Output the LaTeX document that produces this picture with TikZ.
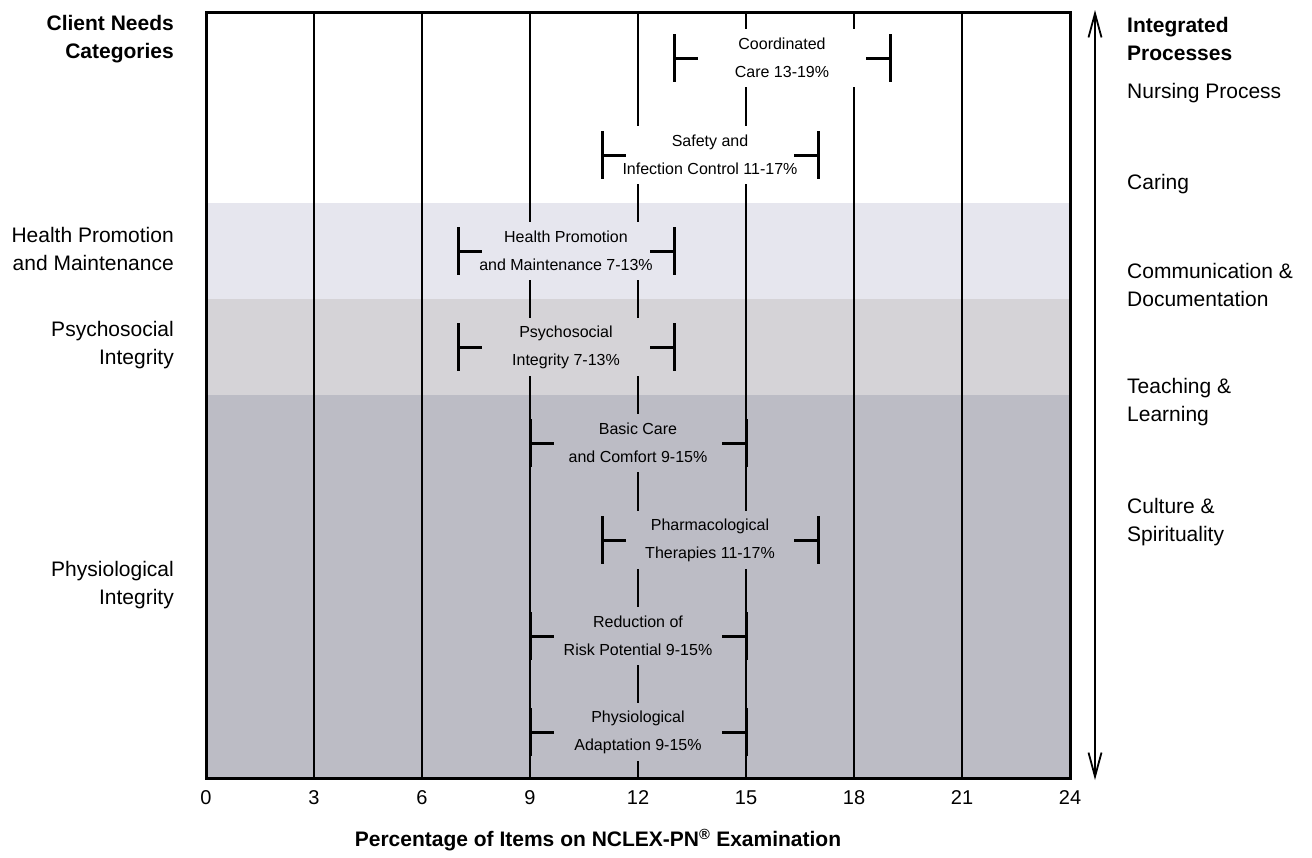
\documentclass[tikz,border=0pt]{standalone}
\usepackage{fontspec}
\setmainfont{Liberation Sans}
\usetikzlibrary{positioning, arrows.meta}

\definecolor{bandA}{HTML}{E6E6EE}
\definecolor{bandB}{HTML}{D5D3D7}
\definecolor{bandC}{HTML}{BCBCC5}

\tikzset{
  sidelabel/.style={font=\fontsize{21}{28}\selectfont, inner sep=0pt},
  barlabel/.style={font=\fontsize{16}{28}\selectfont, align=center, inner sep=0pt, minimum height=58pt},
  gridline/.style={line width=1.6pt},
  tickmark/.style={line width=3pt},
  axisnum/.style={font=\fontsize{20}{24}\selectfont, inner sep=0pt}
}

\begin{document}
\begin{tikzpicture}[x=1pt, y=-1pt]
\useasboundingbox (0,0) rectangle (1312,857);
% background bands
\fill[bandA] (206,203) rectangle (1070,299);
\fill[bandB] (206,299) rectangle (1070,395);
\fill[bandC] (206,395) rectangle (1070,778);
% vertical grid
\foreach \i in {3,6,...,21}
  \draw[gridline] ({206+36*\i},12) -- ({206+36*\i},778);
% ranges
\foreach \lo/\hi/\yy/\col/\txt in {
  13/19/58/white/{Coordinated\\Care 13-19\%},
  11/17/155/white/{Safety and\\Infection Control 11-17\%},
  7/13/251/bandA/{Health Promotion\\and Maintenance 7-13\%},
  7/13/347/bandB/{Psychosocial\\Integrity 7-13\%},
  9/15/443/bandC/{Basic Care\\and Comfort 9-15\%},
  11/17/540/bandC/{Pharmacological\\Therapies 11-17\%},
  9/15/636/bandC/{Reduction of\\Risk Potential 9-15\%},
  9/15/732/bandC/{Physiological\\Adaptation 9-15\%}}
{
  \node (bar\yy) [barlabel, fill=\col, minimum width={(36*(\hi-\lo)-50)*1pt}]
    at ({206+18*(\lo+\hi)},\yy) {\txt};
  \draw[tickmark] ({206+36*\lo},{\yy-24}) -- ++(0,48) ({206+36*\lo},\yy) -- ++(24,0);
  \draw[tickmark] ({206+36*\hi},{\yy-24}) -- ++(0,48) ({206+36*\hi},\yy) -- ++(-24,0);
}
% frame
\draw[line width=3pt] (206,12) rectangle (1070,778);
% axis numbers
\foreach \i in {0,3,...,24}
  \node (num\i) [axisnum] at ({206+36*\i},798) {\i};
\node (xtitle) [sidelabel, font=\fontsize{21}{28}\selectfont\bfseries] at (598,840)
  {Percentage of Items on NCLEX-PN\textsuperscript{\textregistered} Examination};
% left labels
\node (clientneeds) [sidelabel, align=right, anchor=east, font=\fontsize{21}{28}\selectfont\bfseries] at (174,39) {Client Needs\\Categories};
\node (healthprom) [sidelabel, align=right, anchor=east] at (174,249) {Health Promotion\\and Maintenance};
\node (psychosoc) [sidelabel, align=right, anchor=east] at (174,345) {Psychosocial\\Integrity};
\node (physio) [sidelabel, align=right, anchor=east] at (174,585) {Physiological\\Integrity};
% right side
\coordinate (arrtop) at (1095,10);
\coordinate (arrbot) at (1095,780);
\draw[line width=1.8pt, {Straight Barb[length=24pt,width=13pt,line width=1.8pt]}-{Straight Barb[length=24pt,width=13pt,line width=1.8pt]}] (arrtop) -- (arrbot);
\node (integrated) [sidelabel, align=left, anchor=west, font=\fontsize{21}{28}\selectfont\bfseries] at (1127,39) {Integrated\\Processes};
\node (nursing) [sidelabel, anchor=west] at (1127,93) {Nursing Process};
\node (caring) [sidelabel, anchor=west] at (1127,184) {Caring};
\node (commdoc) [sidelabel, align=left, anchor=west] at (1127,285) {Communication \&\\Documentation};
\node (teaching) [sidelabel, align=left, anchor=west] at (1127,402) {Teaching \&\\Learning};
\node (culture) [sidelabel, align=left, anchor=west] at (1127,522) {Culture \&\\Spirituality};
\end{tikzpicture}
\end{document}
